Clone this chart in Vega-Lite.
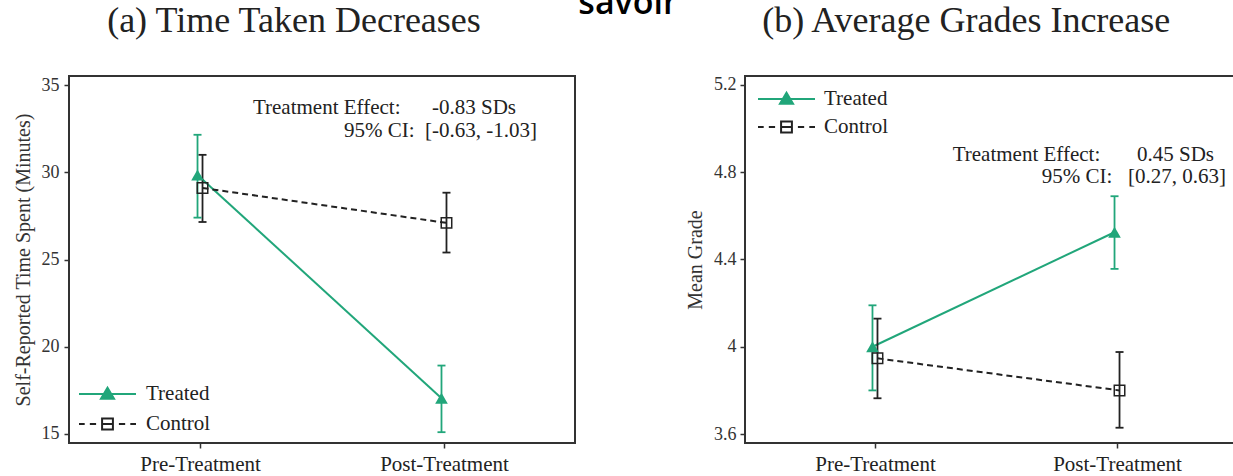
{
  "$schema": "https://vega.github.io/schema/vega-lite/v6.json",
  "background": "white",
  "padding": {"left": 12, "top": -14, "right": -12, "bottom": 2},
  "title": {"text": "savoir", "font": "Open Sans", "fontSize": 34, "fontWeight": 600, "color": "#000000", "anchor": "middle", "baseline": "alphabetic", "offset": -46, "dx": -2},
  "spacing": 108,
  "datasets": {
    "time": [
      {"group": "Treated", "phase": "Pre-Treatment", "mean": 29.85, "lo": 27.4, "hi": 32.15},
      {"group": "Treated", "phase": "Post-Treatment", "mean": 17.05, "lo": 15.1, "hi": 18.92},
      {"group": "Control", "phase": "Pre-Treatment", "mean": 29.1, "lo": 27.15, "hi": 31.0},
      {"group": "Control", "phase": "Post-Treatment", "mean": 27.1, "lo": 25.4, "hi": 28.83}
    ],
    "grades": [
      {"group": "Treated", "phase": "Pre-Treatment", "mean": 4.0, "lo": 3.8, "hi": 4.19},
      {"group": "Treated", "phase": "Post-Treatment", "mean": 4.525, "lo": 4.357, "hi": 4.69},
      {"group": "Control", "phase": "Pre-Treatment", "mean": 3.947, "lo": 3.764, "hi": 4.129},
      {"group": "Control", "phase": "Post-Treatment", "mean": 3.8, "lo": 3.629, "hi": 3.976}
    ]
  },
  "config": {
    "view": {"stroke": "#333333", "strokeWidth": 2},
    "axis": {"labelFont": "Liberation Serif", "titleFont": "Liberation Serif", "labelColor": "#333333", "titleColor": "#333333", "grid": false, "domain": false, "tickColor": "#333333", "tickWidth": 1.5, "tickSize": 5, "titleFontWeight": "normal"}
  },
  "hconcat": [
    {
      "width": 506,
      "height": 367,
      "title": {"text": "(a) Time Taken Decreases", "font": "Liberation Serif", "fontSize": 36, "fontWeight": "normal", "color": "#222222", "anchor": "middle", "frame": "bounds", "baseline": "alphabetic", "offset": 8},
      "data": {"name": "time"},
      "encoding": {
        "x": {"field": "phase", "type": "nominal", "sort": ["Pre-Treatment", "Post-Treatment"], "scale": {"type": "point", "padding": 0.537}, "axis": {"title": null, "labelAngle": 0, "labelFontSize": 21, "labelPadding": 5, "labelColor": "#222222"}}
      },
      "layer": [
        {"transform": [{"filter": "datum.group === 'Treated'"}], "mark": {"type": "line", "color": "#21a67a", "strokeWidth": 2, "xOffset": -2.5},
         "encoding": {"y": {"field": "mean", "type": "quantitative", "scale": {"domain": [14.48, 35.52], "nice": false, "zero": false}, "axis": {"values": [15, 20, 25, 30, 35], "title": "Self-Reported Time Spent (Minutes)", "titleFontSize": 20, "labelFontSize": 18, "labelPadding": 5, "titlePadding": 8}}}},
        {"transform": [{"filter": "datum.group === 'Control'"}], "mark": {"type": "line", "color": "#222222", "strokeWidth": 2, "strokeDash": [6, 4], "xOffset": 2.5},
         "encoding": {"y": {"field": "mean", "type": "quantitative"}}},
        {"transform": [{"filter": "datum.group === 'Treated'"}], "mark": {"type": "rule", "color": "#21a67a", "strokeWidth": 1.8, "xOffset": -2.5},
         "encoding": {"y": {"field": "lo", "type": "quantitative"}, "y2": {"field": "hi"}}},
        {"transform": [{"filter": "datum.group === 'Control'"}], "mark": {"type": "rule", "color": "#222222", "strokeWidth": 1.8, "xOffset": 2.5},
         "encoding": {"y": {"field": "lo", "type": "quantitative"}, "y2": {"field": "hi"}}},
        {"transform": [{"filter": "datum.group === 'Treated'"}, {"fold": ["lo", "hi"], "as": ["end", "val"]}], "mark": {"type": "point", "shape": "stroke", "size": 64, "filled": false, "color": "#21a67a", "strokeWidth": 1.8, "opacity": 1, "xOffset": -2.5},
         "encoding": {"y": {"field": "val", "type": "quantitative"}}},
        {"transform": [{"filter": "datum.group === 'Control'"}, {"fold": ["lo", "hi"], "as": ["end", "val"]}], "mark": {"type": "point", "shape": "stroke", "size": 64, "filled": false, "color": "#222222", "strokeWidth": 1.8, "opacity": 1, "xOffset": 2.5},
         "encoding": {"y": {"field": "val", "type": "quantitative"}}},
        {"transform": [{"filter": "datum.group === 'Treated'"}], "mark": {"type": "point", "shape": "triangle-up", "size": 160, "filled": true, "color": "#21a67a", "opacity": 1, "xOffset": -2.5},
         "encoding": {"y": {"field": "mean", "type": "quantitative"}}},
        {"transform": [{"filter": "datum.group === 'Control'"}], "mark": {"type": "point", "shape": "square", "size": 110, "filled": false, "color": "#222222", "strokeWidth": 1.5, "opacity": 1, "xOffset": 2.5},
         "encoding": {"y": {"field": "mean", "type": "quantitative"}}},
        {"mark": {"type": "point", "size": 0, "opacity": 0},
         "encoding": {
           "y": {"field": "mean", "type": "quantitative"},
           "shape": {"field": "group", "type": "nominal", "scale": {"domain": ["Treated", "Control"], "range": ["M-1,0L1,0M-0.23,0.17L0.23,0.17L0,-0.22Z", "M-1,0L-0.8,0M-0.62,0L-0.4,0M-0.19,0L0.19,0M0.4,0L0.62,0M0.8,0L1,0M-0.19,-0.19L0.19,-0.19L0.19,0.19L-0.19,0.19Z"]},
             "legend": {"title": null, "orient": "bottom-left", "offset": 9, "symbolSize": 3249, "symbolStrokeWidth": 2, "clipHeight": 18, "rowPadding": 9, "labelFont": "Liberation Serif", "labelFontSize": 21, "labelColor": "#222222", "labelOffset": 9, "padding": 0, "encode": {"symbols": {"update": {"opacity": {"value": 1}}}}}},
           "fill": {"field": "group", "type": "nominal", "scale": {"domain": ["Treated", "Control"], "range": ["#21a67a", "transparent"]},
             "legend": {"title": null, "orient": "bottom-left", "offset": 9, "symbolSize": 3249, "symbolStrokeWidth": 2, "clipHeight": 18, "rowPadding": 9, "labelFont": "Liberation Serif", "labelFontSize": 21, "labelColor": "#222222", "labelOffset": 9, "padding": 0, "encode": {"symbols": {"update": {"opacity": {"value": 1}}}}}},
           "stroke": {"field": "group", "type": "nominal", "scale": {"domain": ["Treated", "Control"], "range": ["#21a67a", "#222222"]},
             "legend": {"title": null, "orient": "bottom-left", "offset": 9, "symbolSize": 3249, "symbolStrokeWidth": 2, "clipHeight": 18, "rowPadding": 9, "labelFont": "Liberation Serif", "labelFontSize": 21, "labelColor": "#222222", "labelOffset": 9, "padding": 0, "encode": {"symbols": {"update": {"opacity": {"value": 1}}}}}}
         }},
        {"data": {"values": [{"t": "Treatment Effect:\u00a0\u00a0\u00a0\u00a0\u00a0\u00a0-0.83 SDs"}]}, "mark": {"type": "text", "align": "right", "baseline": "middle", "font": "Liberation Serif", "fontSize": 21, "color": "#222222", "dx": 72},
         "encoding": {"x": {"datum": "Post-Treatment", "type": "nominal"}, "y": {"datum": 33.66, "type": "quantitative"}, "text": {"field": "t"}}},
        {"data": {"values": [{"t": "95% CI:\u00a0\u00a0[-0.63, -1.03]"}]}, "mark": {"type": "text", "align": "right", "baseline": "middle", "font": "Liberation Serif", "fontSize": 21, "color": "#222222", "dx": 93},
         "encoding": {"x": {"datum": "Post-Treatment", "type": "nominal"}, "y": {"datum": 32.34, "type": "quantitative"}, "text": {"field": "t"}}}
      ]
    },
    {
      "width": 502,
      "height": 367,
      "title": {"text": "(b) Average Grades Increase", "font": "Liberation Serif", "fontSize": 36, "fontWeight": "normal", "color": "#222222", "anchor": "middle", "frame": "bounds", "baseline": "alphabetic", "offset": 8},
      "data": {"name": "grades"},
      "encoding": {
        "x": {"field": "phase", "type": "nominal", "sort": ["Pre-Treatment", "Post-Treatment"], "scale": {"type": "point", "padding": 0.537}, "axis": {"title": null, "labelAngle": 0, "labelFontSize": 21, "labelPadding": 5, "labelColor": "#222222"}}
      },
      "layer": [
        {"transform": [{"filter": "datum.group === 'Treated'"}], "mark": {"type": "line", "color": "#21a67a", "strokeWidth": 2, "xOffset": -2.5},
         "encoding": {"y": {"field": "mean", "type": "quantitative", "scale": {"domain": [3.559, 5.241], "nice": false, "zero": false}, "axis": {"values": [3.6, 4, 4.4, 4.8, 5.2], "labelExpr": "'' + datum.value", "title": "Mean Grade", "titleFontSize": 20, "labelFontSize": 18, "labelPadding": 4, "titlePadding": 8}}}},
        {"transform": [{"filter": "datum.group === 'Control'"}], "mark": {"type": "line", "color": "#222222", "strokeWidth": 2, "strokeDash": [6, 4], "xOffset": 2.5},
         "encoding": {"y": {"field": "mean", "type": "quantitative"}}},
        {"transform": [{"filter": "datum.group === 'Treated'"}], "mark": {"type": "rule", "color": "#21a67a", "strokeWidth": 1.8, "xOffset": -2.5},
         "encoding": {"y": {"field": "lo", "type": "quantitative"}, "y2": {"field": "hi"}}},
        {"transform": [{"filter": "datum.group === 'Control'"}], "mark": {"type": "rule", "color": "#222222", "strokeWidth": 1.8, "xOffset": 2.5},
         "encoding": {"y": {"field": "lo", "type": "quantitative"}, "y2": {"field": "hi"}}},
        {"transform": [{"filter": "datum.group === 'Treated'"}, {"fold": ["lo", "hi"], "as": ["end", "val"]}], "mark": {"type": "point", "shape": "stroke", "size": 64, "filled": false, "color": "#21a67a", "strokeWidth": 1.8, "opacity": 1, "xOffset": -2.5},
         "encoding": {"y": {"field": "val", "type": "quantitative"}}},
        {"transform": [{"filter": "datum.group === 'Control'"}, {"fold": ["lo", "hi"], "as": ["end", "val"]}], "mark": {"type": "point", "shape": "stroke", "size": 64, "filled": false, "color": "#222222", "strokeWidth": 1.8, "opacity": 1, "xOffset": 2.5},
         "encoding": {"y": {"field": "val", "type": "quantitative"}}},
        {"transform": [{"filter": "datum.group === 'Treated'"}], "mark": {"type": "point", "shape": "triangle-up", "size": 160, "filled": true, "color": "#21a67a", "opacity": 1, "xOffset": -2.5},
         "encoding": {"y": {"field": "mean", "type": "quantitative"}}},
        {"transform": [{"filter": "datum.group === 'Control'"}], "mark": {"type": "point", "shape": "square", "size": 110, "filled": false, "color": "#222222", "strokeWidth": 1.5, "opacity": 1, "xOffset": 2.5},
         "encoding": {"y": {"field": "mean", "type": "quantitative"}}},
        {"mark": {"type": "point", "size": 0, "opacity": 0},
         "encoding": {
           "y": {"field": "mean", "type": "quantitative"},
           "shape": {"field": "group", "type": "nominal", "scale": {"domain": ["Treated", "Control"], "range": ["M-1,0L1,0M-0.23,0.17L0.23,0.17L0,-0.22Z", "M-1,0L-0.8,0M-0.62,0L-0.4,0M-0.19,0L0.19,0M0.4,0L0.62,0M0.8,0L1,0M-0.19,-0.19L0.19,-0.19L0.19,0.19L-0.19,0.19Z"]},
             "legend": {"title": null, "orient": "top-left", "offset": 12, "symbolSize": 3249, "symbolStrokeWidth": 2, "clipHeight": 22, "rowPadding": 6, "labelFont": "Liberation Serif", "labelFontSize": 21, "labelColor": "#222222", "labelOffset": 8, "padding": 0, "encode": {"symbols": {"update": {"opacity": {"value": 1}}}}}},
           "fill": {"field": "group", "type": "nominal", "scale": {"domain": ["Treated", "Control"], "range": ["#21a67a", "transparent"]},
             "legend": {"title": null, "orient": "top-left", "offset": 12, "symbolSize": 3249, "symbolStrokeWidth": 2, "clipHeight": 22, "rowPadding": 6, "labelFont": "Liberation Serif", "labelFontSize": 21, "labelColor": "#222222", "labelOffset": 8, "padding": 0, "encode": {"symbols": {"update": {"opacity": {"value": 1}}}}}},
           "stroke": {"field": "group", "type": "nominal", "scale": {"domain": ["Treated", "Control"], "range": ["#21a67a", "#222222"]},
             "legend": {"title": null, "orient": "top-left", "offset": 12, "symbolSize": 3249, "symbolStrokeWidth": 2, "clipHeight": 22, "rowPadding": 6, "labelFont": "Liberation Serif", "labelFontSize": 21, "labelColor": "#222222", "labelOffset": 8, "padding": 0, "encode": {"symbols": {"update": {"opacity": {"value": 1}}}}}}
         }},
        {"data": {"values": [{"t": "Treatment Effect:\u00a0\u00a0\u00a0\u00a0\u00a0\u00a0\u00a00.45 SDs"}]}, "mark": {"type": "text", "align": "right", "baseline": "middle", "font": "Liberation Serif", "fontSize": 21, "color": "#222222", "dx": 97},
         "encoding": {"x": {"datum": "Post-Treatment", "type": "nominal"}, "y": {"datum": 4.88, "type": "quantitative"}, "text": {"field": "t"}}},
        {"data": {"values": [{"t": "95% CI:\u00a0\u00a0\u00a0[0.27, 0.63]"}]}, "mark": {"type": "text", "align": "right", "baseline": "middle", "font": "Liberation Serif", "fontSize": 21, "color": "#222222", "dx": 109},
         "encoding": {"x": {"datum": "Post-Treatment", "type": "nominal"}, "y": {"datum": 4.779, "type": "quantitative"}, "text": {"field": "t"}}}
      ]
    }
  ]
}
